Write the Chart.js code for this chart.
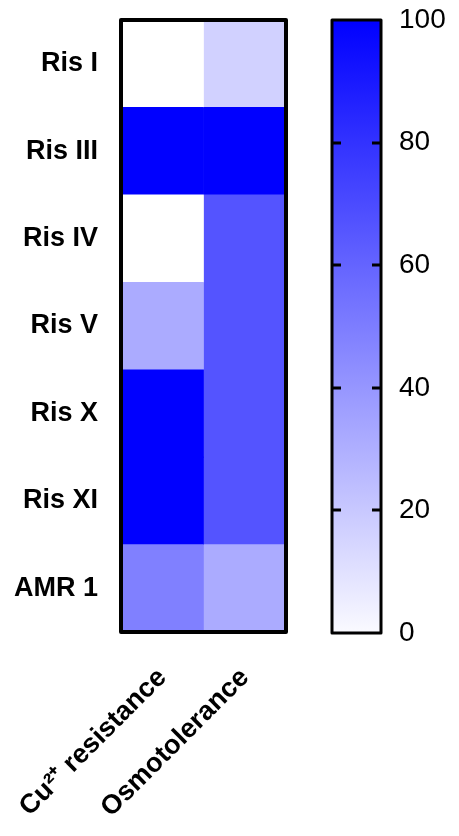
<!DOCTYPE html>
<html>
<head>
<meta charset="utf-8">
<script src="https://cdn.jsdelivr.net/npm/chart.js@4.4.1/dist/chart.umd.min.js"></script>
<style>
  html, body { margin: 0; padding: 0; background: #ffffff; }
  #wrap { position: relative; width: 459px; height: 836px; }
  #heat { position: absolute; left: 0; top: 0; }
  #bar { position: absolute; left: 300px; top: 0; }
</style>
</head>
<body>
<div id="wrap">
  <canvas id="heat" width="459" height="836" style="width:459px;height:836px"></canvas>
  <canvas id="bar" width="159" height="836" style="width:159px;height:836px"></canvas>
</div>
<script>
// ---- data ----
const rowLabels = ['Ris I', 'Ris III', 'Ris IV', 'Ris V', 'Ris X', 'Ris XI', 'AMR 1'];
const colLabels = ['Cu\u00B2\u207A resistance', 'Osmotolerance'];
const cuValues = [0, 100, 0, 33, 100, 100, 50];
const osmoValues = [18, 100, 67, 67, 67, 67, 33];
const scaleMin = 0;
const scaleMax = 100;
const scaleTicks = [0, 20, 40, 60, 80, 100];

const FONT = "'Liberation Sans', Arial, Helvetica, sans-serif";

function heatColor(v) {
  const t = Math.max(0, Math.min(1, (v - scaleMin) / (scaleMax - scaleMin)));
  const c = Math.round(255 * (1 - t));
  return 'rgb(' + c + ',' + c + ',255)';
}

const boxPlugin = {
  id: 'box',
  afterDraw(chart, args, opts) {
    const a = chart.chartArea;
    const ctx = chart.ctx;
    ctx.save();
    ctx.strokeStyle = '#000';
    ctx.lineWidth = opts.width || 4;
    ctx.lineJoin = 'round';
    ctx.strokeRect(a.left, a.top, a.right - a.left, a.bottom - a.top);
    if (opts.ticks) {
      const ys = chart.scales.y;
      ctx.lineWidth = 3;
      ys.ticks.forEach(t => {
        if (t.value === scaleMin || t.value === scaleMax) return;
        const py = Math.round(ys.getPixelForValue(t.value));
        ctx.beginPath();
        ctx.moveTo(a.left, py); ctx.lineTo(a.left + 9, py);
        ctx.moveTo(a.right, py); ctx.lineTo(a.right - 9, py);
        ctx.stroke();
      });
    }
    ctx.restore();
  }
};

// ---- heatmap ----
new Chart(document.getElementById('heat'), {
  type: 'bar',
  data: {
    labels: rowLabels,
    datasets: [
      { label: colLabels[0], data: cuValues.map(() => 1), backgroundColor: cuValues.map(heatColor),
        borderWidth: 0, barPercentage: 1, categoryPercentage: 1 },
      { label: colLabels[1], data: osmoValues.map(() => 1), backgroundColor: osmoValues.map(heatColor),
        borderWidth: 0, barPercentage: 1, categoryPercentage: 1 }
    ]
  },
  options: {
    indexAxis: 'y',
    responsive: false,
    animation: false,
    devicePixelRatio: 1,
    layout: { padding: { top: 20, right: 173, left: 0, bottom: 0 } },
    plugins: { legend: { display: false }, tooltip: { enabled: false }, box: { width: 4 } },
    scales: {
      x: {
        type: 'linear', stacked: true, min: 0, max: 2,
        grid: { display: false, drawTicks: false },
        border: { display: false },
        afterBuildTicks: s => { s.ticks = colLabels.map((_, i) => ({ value: i + 0.5 })); },
        afterFit: s => { s.height = 836 - 632; s.paddingLeft = 0; s.paddingRight = 0; },
        ticks: {
          autoSkip: false, minRotation: 45, maxRotation: 45, padding: 30,
          color: '#000', font: { family: FONT, size: 27, weight: 'bold' },
          callback: v => colLabels[Math.floor(v)]
        }
      },
      y: {
        type: 'category', stacked: true,
        grid: { display: false, drawTicks: false },
        border: { display: false },
        afterFit: s => { s.width = 121; s.paddingTop = 0; s.paddingBottom = 0; },
        ticks: { padding: 23, color: '#000', font: { family: FONT, size: 27, weight: 'bold' } }
      }
    }
  },
  plugins: [boxPlugin]
});

// ---- colour bar ----
new Chart(document.getElementById('bar'), {
  type: 'bar',
  data: {
    labels: [''],
    datasets: [{
      data: [[scaleMin, scaleMax]],
      borderWidth: 0, barPercentage: 1, categoryPercentage: 1,
      backgroundColor: ctx => {
        const a = ctx.chart.chartArea;
        if (!a) return heatColor(50);
        const ys = ctx.chart.scales.y;
        const g = ctx.chart.ctx.createLinearGradient(0, ys.getPixelForValue(scaleMin), 0, ys.getPixelForValue(scaleMax));
        g.addColorStop(0, heatColor(scaleMin + 2));
        g.addColorStop(1, heatColor(scaleMax));
        return g;
      }
    }]
  },
  options: {
    responsive: false,
    animation: false,
    devicePixelRatio: 1,
    layout: { padding: { top: 20, left: 32, right: 0, bottom: 836 - 633 } },
    plugins: { legend: { display: false }, tooltip: { enabled: false }, box: { width: 3, ticks: true } },
    scales: {
      x: { display: false, offset: true },
      y: {
        position: 'right', min: scaleMin, max: scaleMax,
        afterBuildTicks: s => { s.ticks = scaleTicks.map(v => ({ value: v })); },
        afterFit: s => { s.width = 159 - 81; s.paddingTop = 0; s.paddingBottom = 0; },
        grid: { display: false, drawTicks: false },
        border: { display: false },
        ticks: { padding: 18, color: '#000', font: { family: FONT, size: 28 } }
      }
    }
  },
  plugins: [boxPlugin]
});
</script>
</body>
</html>
